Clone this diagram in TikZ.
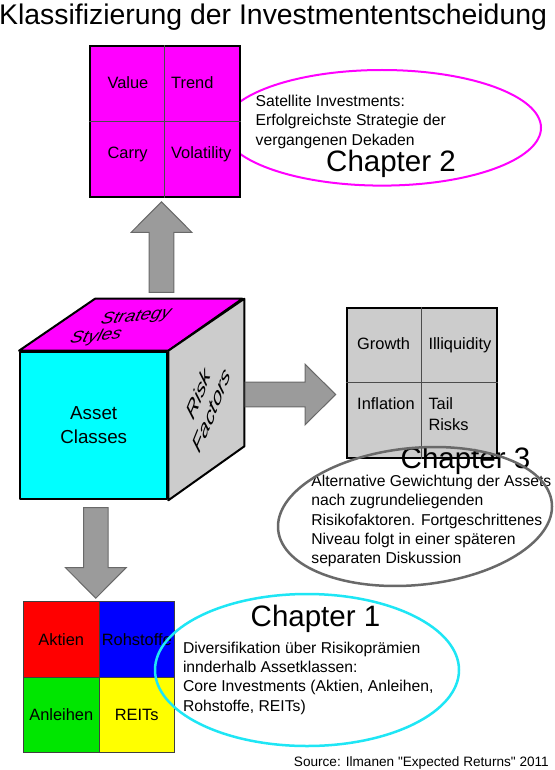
\documentclass[tikz,border=0pt]{standalone}
\usepackage{fontspec}
\setmainfont{Liberation Sans}
\usepackage{tikz}
\usetikzlibrary{calc}

\definecolor{arrowgray}{RGB}{155,155,155}
\definecolor{arrowedge}{RGB}{105,105,105}
\definecolor{riskgray}{RGB}{204,204,204}
\definecolor{bubblegray}{RGB}{105,105,105}
\definecolor{stylemag}{RGB}{255,0,255}
\definecolor{assetcyan}{RGB}{0,255,255}
\definecolor{bubblecyan}{RGB}{30,230,245}
\definecolor{aktienred}{RGB}{255,0,0}
\definecolor{rohblue}{RGB}{0,0,255}
\definecolor{anlgreen}{RGB}{0,230,0}
\definecolor{reityellow}{RGB}{255,255,0}

\begin{document}
\begin{tikzpicture}[
    x=1pt, y=-1pt,
    % Styles for the components
    square/.style={rectangle, draw=black, line width=2pt, minimum size=150pt, inner sep=0pt},
    cellbox/.style={rectangle, draw=black!75, line width=0.8pt, minimum size=75.5pt, inner sep=0pt, font=\fontsize{16.4}{19}\selectfont},
    divider/.style={draw=black!70, line width=0.8pt},
    celltext/.style={inner sep=0pt, font=\fontsize{16.4}{20.7}\selectfont},
    bubbletext/.style={inner sep=0pt, align=left, font=\fontsize{15.7}{19.3}\selectfont},
    chaptertext/.style={inner sep=0pt, font=\fontsize{29.5}{34}\selectfont},
    titletext/.style={inner sep=0pt, font=\fontsize{28.4}{32}\selectfont},
    facetext/.style={inner sep=0pt, font=\fontsize{18.8}{22}\selectfont\itshape},
    face/.style={draw=black, line width=2pt, line join=round},
    blockarrow/.style={fill=arrowgray, draw=arrowedge, line width=1pt}
]

    \fill[white] (0,0) rectangle (554,770);
    \useasboundingbox (0,0) rectangle (554,770);

    % Title
    \node[titletext, anchor=base west] (title) at (-1,25) {Klassifizierung der Investmententscheidung};

    % =========================================================================
    % 1. STRATEGY STYLES (Chapter 2)
    % =========================================================================
    \draw[stylemag, line width=2pt] (382,127.8) ellipse [x radius=159, y radius=57.8];

    \node[square, fill=stylemag] (styles) at (164.5,121.5) {};
    \draw[divider] (styles.north) -- (styles.south);
    \draw[divider] (styles.west) -- (styles.east);

    \node[celltext, anchor=base west] (value) at (107.4,89) {Value};
    \node[celltext, anchor=base west] (trend) at (171,89) {Trend};
    \node[celltext, anchor=base west] (carry) at (107.4,159) {Carry};
    \node[celltext, anchor=base west] (vola) at (171,159) {Volatility};

    \node[bubbletext, anchor=north west] (ch2text) at (255.5,95)
        {Satellite Investments:\\Erfolgreichste Strategie der\\vergangenen Dekaden};
    \node[chaptertext, anchor=base west] (ch2) at (326,171.7) {Chapter 2};

    % Arrow up to the styles
    \begin{scope}[shift={(161.5,292.3)}, rotate=90]
        \draw[blockarrow] (0,-12.3) -- (60,-12.3) -- (60,-30.3) -- (90.5,0)
            -- (60,30.3) -- (60,12.3) -- (0,12.3) -- cycle;
    \end{scope}

    % =========================================================================
    % 2. THE CUBE
    % =========================================================================
    \node[face, fill=assetcyan, minimum width=147.3pt, minimum height=147.6pt,
          inner sep=0pt, align=center, font=\fontsize{18.8}{24}\selectfont]
          (assets) at (93.7,425.5) {Asset\\Classes};

    % Top and side faces, shifted back by the depth
    \draw[face, fill=stylemag] (assets.north west) -- ++(76,-52) -- ++(147.3,0)
        -- (assets.north east) -- cycle;
    \draw[face, fill=riskgray] (assets.north east) -- ++(76,-52) -- ++(0,147.6)
        -- (assets.south east) -- cycle;

    \node[facetext, rotate=6, xslant=0.4, yscale=0.85] (strategy) at (136,317) {Strategy};
    \node[facetext, rotate=6, xslant=0.4, yscale=0.85] (stylestext) at (96,337) {Styles};
    \node[facetext, align=center, rotate=68, xscale=1.35, yscale=0.85, xslant=0.35]
        (riskfactors) at (205,402) {Risk\\Factors};

    % Arrow right to the risk factors
    \begin{scope}[shift={(245,394.5)}]
        \draw[blockarrow] (0,-12.3) -- (60,-12.3) -- (60,-30.3) -- (90.7,0)
            -- (60,30.3) -- (60,12.3) -- (0,12.3) -- cycle;
    \end{scope}

    % =========================================================================
    % 3. RISK FACTORS (Chapter 3)
    % =========================================================================
    \node[square, fill=riskgray] (risks) at (421.7,382.5) {};
    \draw[divider] (risks.north) -- (risks.south);
    \draw[divider] (risks.west) -- (risks.east);

    \node[celltext, anchor=base west] (growth) at (357,349.3) {Growth};
    \node[celltext, anchor=base west] (illiq) at (428.3,349.3) {Illiquidity};
    \node[celltext, anchor=base west] (inflation) at (357,409.3) {Inflation};
    \node[celltext, anchor=north west, align=left] (tail) at (428.3,397.3) {Tail\\Risks};

    \node[chaptertext, anchor=base west] (ch3) at (400.5,468) {Chapter 3};
    \node[bubbletext, anchor=north west] (ch3text) at (311.2,475)
        {Alternative Gewichtung der Assets\\nach zugrundeliegenden\\Risikofaktoren. Fortgeschrittenes\\Niveau folgt in einer späteren\\separaten Diskussion};

    \draw[bubblegray, line width=2.5pt, rotate around={5.6:(415,516.5)}]
        (415,516.5) ellipse [x radius=137.5, y radius=68.5];

    % =========================================================================
    % 4. ASSET CLASSES (Chapter 1)
    % =========================================================================
    % Arrow down to the asset classes
    \begin{scope}[shift={(95.8,507.7)}, rotate=-90]
        \draw[blockarrow] (0,-12.3) -- (60,-12.3) -- (60,-30.3) -- (90.5,0)
            -- (60,30.3) -- (60,12.3) -- (0,12.3) -- cycle;
    \end{scope}

    \node[cellbox, fill=aktienred] (aktien) at (61.25,639.25) {Aktien};
    \node[cellbox, fill=rohblue] (rohstoffe) at (136.75,639.25) {Rohstoffe};
    \node[cellbox, fill=anlgreen] (anleihen) at (61.25,714.75) {Anleihen};
    \node[cellbox, fill=reityellow] (reits) at (136.75,714.75) {REITs};

    \draw[bubblecyan, line width=2.5pt] (307,670) ellipse [x radius=152, y radius=76];

    \node[chaptertext, anchor=base west] (ch1) at (250.5,626.7) {Chapter 1};
    \node[bubbletext, anchor=north west] (ch1text) at (182.8,641.7)
        {Diversifikation über Risikoprämien\\innderhalb Assetklassen:\\Core Investments (Aktien, Anleihen,\\Rohstoffe, REITs)};

    % Source
    \node[inner sep=0pt, anchor=base east, font=\fontsize{13.6}{16}\selectfont] (source) at (549,766.5)
        {Source: Ilmanen \textquotedbl Expected Returns\textquotedbl\ 2011};

\end{tikzpicture}
\end{document}
